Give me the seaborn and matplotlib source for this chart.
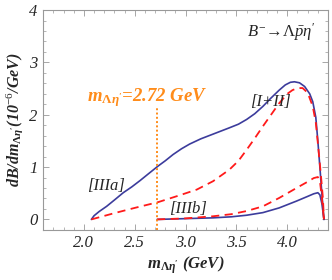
import numpy as np
import pandas as pd
import seaborn as sns
import matplotlib.pyplot as plt
from matplotlib.ticker import MultipleLocator

# curves
m_tot = [2.074, 2.10, 2.15, 2.224, 2.30, 2.387, 2.47, 2.551, 2.64, 2.73, 2.80, 2.877, 2.96,
         3.04, 3.15, 3.27, 3.35, 3.43, 3.52, 3.60, 3.68, 3.76, 3.84, 3.92, 3.98, 4.03, 4.07,
         4.12, 4.17, 4.22, 4.25, 4.28, 4.30, 4.32, 4.34, 4.36]
dB_tot = [0.0, 0.07, 0.15, 0.25, 0.37, 0.51, 0.62, 0.74, 0.88, 1.02, 1.12, 1.24, 1.35,
          1.44, 1.54, 1.63, 1.69, 1.75, 1.82, 1.91, 2.02, 2.16, 2.32, 2.47, 2.57, 2.62, 2.63,
          2.61, 2.54, 2.40, 2.25, 1.95, 1.50, 1.00, 0.48, 0.0]

m_tot_nr = [2.074, 2.30, 2.50, 2.73, 2.94, 3.11, 3.27, 3.43, 3.52, 3.60, 3.68, 3.76, 3.84,
            3.92, 4.00, 4.05, 4.10, 4.15, 4.20, 4.25, 4.28, 4.30, 4.33, 4.35, 4.36]
dB_tot_nr = [0.0, 0.12, 0.22, 0.33, 0.46, 0.57, 0.73, 0.95, 1.12, 1.33, 1.55, 1.78, 2.00,
             2.22, 2.40, 2.47, 2.51, 2.51, 2.42, 2.16, 1.85, 1.46, 0.85, 0.40, 0.0]

m_b = [2.72, 3.0, 3.27, 3.45, 3.60, 3.76, 3.92, 4.09, 4.20, 4.26, 4.30, 4.32, 4.34, 4.36]
dB_b_nr = [0.0, 0.02, 0.06, 0.10, 0.16, 0.25, 0.41, 0.60, 0.72, 0.79, 0.81, 0.74, 0.40, 0.0]
dB_b = [0.0, 0.015, 0.03, 0.05, 0.08, 0.13, 0.22, 0.35, 0.44, 0.49, 0.51, 0.47, 0.30, 0.0]

m_cut = 2.72

sns.set_style('ticks')
plt.rcParams['font.family'] = ['Liberation Serif', 'DejaVu Serif']
plt.rcParams['mathtext.fontset'] = 'custom'
plt.rcParams['mathtext.rm'] = 'Liberation Serif'
plt.rcParams['mathtext.it'] = 'Liberation Serif:italic'
plt.rcParams['mathtext.bf'] = 'Liberation Serif:bold'
plt.rcParams['mathtext.bfit'] = 'Liberation Serif:italic:bold'

blue = '#3c3c9c'
red = '#ff1a1a'
orange = '#ff8c1a'

fig = plt.figure(figsize=(3.32, 2.80), dpi=100)
ax = fig.add_axes([0.13, 0.179, 0.858, 0.785])

sns.lineplot(x=m_tot, y=dB_tot, ax=ax, color=blue, lw=1.2, sort=False)
sns.lineplot(x=m_b, y=dB_b, ax=ax, color=blue, lw=1.2, sort=False)
sns.lineplot(x=m_tot_nr, y=dB_tot_nr, ax=ax, color=red, lw=1.3, sort=False)
sns.lineplot(x=m_b, y=dB_b_nr, ax=ax, color=red, lw=1.3, sort=False)
for line in ax.lines[2:]:
    line.set_dashes([4.5, 3])

ax.plot([m_cut, m_cut], [-0.2, 2.13], color=orange, lw=1.4, ls=(0, (1, 1.2)))

ax.set_xlim(1.6, 4.4)
ax.set_ylim(-0.2, 4)
ax.xaxis.set_minor_locator(MultipleLocator(0.1))
ax.yaxis.set_minor_locator(MultipleLocator(0.2))
ax.set_xticks([2.0, 2.5, 3.0, 3.5, 4.0])
ax.set_yticks([0, 1, 2, 3, 4])
ax.tick_params(which='both', direction='in', top=True, right=True, color='#999999')
ax.tick_params(which='major', length=4, width=0.6, labelsize=12, pad=4)
ax.tick_params(which='minor', length=2, width=0.5)
for lab in ax.get_xticklabels() + ax.get_yticklabels():
    lab.set_style('italic')
for sp in ax.spines.values():
    sp.set_color('#999999')
    sp.set_linewidth(0.8)

ax.set_xlabel(r"$\mathbfit{m}_{\mathbf{\Lambda}\mathbfit{\eta'}}$ (GeV)", fontsize=12,
              fontweight='bold', style='italic', labelpad=2)
ax.set_ylabel(r"$\mathbfit{dB/dm}_{\mathbf{\Lambda}\mathbfit{\eta'}}$(10$^{-6}$/GeV)", fontsize=11.5,
              fontweight='bold', style='italic', labelpad=3)

ax.text(3.83, 2.25, '[I+II]', fontsize=12, style='italic', ha='center', va='center')
ax.text(2.22, 0.63, '[IIIa]', fontsize=12, style='italic', ha='center', va='center')
ax.text(3.02, 0.19, '[IIIb]', fontsize=12, style='italic', ha='center', va='center')
ax.text(3.94, 3.58, r"$B^{-}\!\rightarrow\!\Lambda\bar{p}\eta'$", fontsize=12,
        ha='center', va='center')
ax.text(2.62, 2.32, r"$\mathbfit{m}_{\mathbf{\Lambda}\mathbfit{\eta'}}$=2.72 GeV", fontsize=13.5,
        color=orange, fontweight='bold', style='italic', ha='center', va='center')

fig.savefig('out.png', dpi=100)
